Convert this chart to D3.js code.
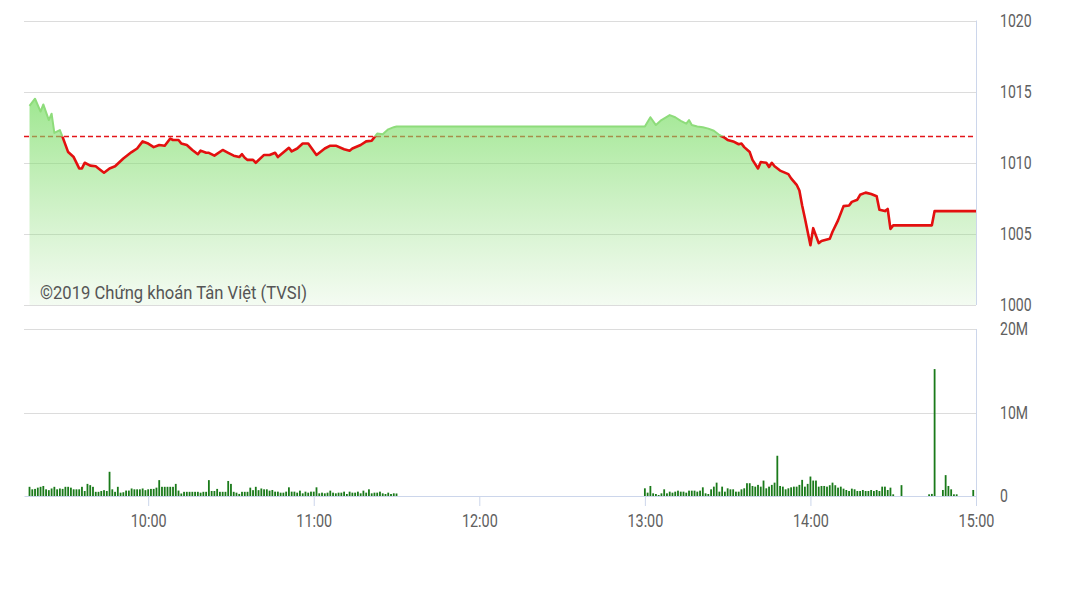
<!DOCTYPE html>
<html><head><meta charset="utf-8">
<script src="https://cdn.jsdelivr.net/npm/d3@7"></script>
<style>body{margin:0;background:#fff}svg{display:block}</style>
</head><body>
<script>
// ---------- DATA ----------
const priceTimes = ["9:17","9:19","9:21","9:22","9:24","9:25","9:26","9:28","9:29","9:31","9:33","9:35","9:36","9:37","9:39","9:41","9:42","9:44","9:46","9:48","9:51","9:54","9:56","9:58",
"10:00","10:02","10:04","10:06","10:08","10:09","10:11","10:12","10:14","10:16","10:18","10:19","10:21","10:22","10:24","10:27","10:29","10:31","10:33","10:34","10:35","10:36","10:38","10:39","10:42","10:44","10:46","10:47","10:51","10:52","10:54","10:56","10:58",
"11:01","11:04","11:06","11:08","11:11","11:13","11:14","11:17","11:19","11:21","11:22","11:23","11:25","11:27","11:29","11:30",
"13:00","13:02","13:04","13:06","13:09","13:11","13:13","13:15","13:16","13:17","13:19","13:21","13:23","13:25","13:27","13:29","13:30","13:32","13:34","13:35","13:36","13:38","13:39","13:41","13:42","13:44","13:45","13:46","13:47","13:49","13:52","13:53","13:55","13:56","13:57","13:58",
"14:00","14:01","14:03","14:04","14:06","14:07","14:08","14:10","14:12","14:14","14:15","14:17","14:18","14:20","14:22","14:24","14:25","14:27","14:28","14:29","14:30","14:44","14:45","15:00"];
const priceValues = [1014.0,1014.5,1013.6,1014.1,1013.0,1013.45,1012.1,1012.3,1011.8,1010.75,1010.4,1009.6,1009.6,1010.0,1009.8,1009.75,1009.6,1009.3,1009.6,1009.75,1010.3,1010.75,1011.0,1011.5,
1011.35,1011.1,1011.25,1011.2,1011.7,1011.6,1011.6,1011.35,1011.25,1010.9,1010.6,1010.85,1010.7,1010.7,1010.5,1010.9,1010.7,1010.5,1010.4,1010.6,1010.35,1010.2,1010.2,1010.0,1010.55,1010.55,1010.7,1010.4,1011.05,1010.8,1011.0,1011.35,1011.35,
1010.55,1011.0,1011.2,1011.2,1010.95,1010.85,1011.0,1011.25,1011.5,1011.55,1011.8,1012.05,1012.0,1012.35,1012.5,1012.55,
1012.55,1013.2,1012.65,1013.0,1013.35,1013.2,1012.95,1012.75,1013.0,1012.65,1012.55,1012.5,1012.4,1012.25,1011.95,1011.75,1011.6,1011.5,1011.3,1011.35,1011.1,1010.75,1010.2,1009.6,1010.05,1010.0,1009.7,1010.0,1009.75,1009.45,1009.2,1008.9,1008.45,1008.05,1007.0,1006.1,
1004.2,1005.4,1004.35,1004.5,1004.6,1004.65,1005.15,1005.95,1006.95,1007.0,1007.25,1007.4,1007.75,1007.9,1007.8,1007.65,1006.7,1006.6,1006.75,1005.35,1005.6,1005.6,1006.6,1006.6];
const refValue = 1011.85;

const priceTicks = [1000, 1005, 1010, 1015, 1020];
const volTicks = [0, 10, 20];
const volTickLabels = ["0", "10M", "20M"];
const timeTicks = ["10:00", "11:00", "12:00", "13:00", "14:00", "15:00"];
const timeDomain = ["9:15", "15:00"];

// volume in millions, one bar per minute from the start time
const morningVolStart = "9:17";
const morningVol = [1.1,0.8,0.85,1.0,1.1,1.2,0.8,0.7,0.9,1.1,
0.8,0.9,0.85,1.1,1.1,1.0,0.8,0.8,0.8,1.1,
0.6,1.45,1.3,1.1,0.5,0.5,0.6,0.7,0.6,2.9,
0.8,0.5,1.1,0.4,0.45,0.65,0.65,0.9,0.8,0.8,
0.8,0.9,0.7,0.8,0.85,0.85,1.0,1.9,1.1,1.1,
1.1,1.1,1.1,1.45,0.65,0.3,0.5,0.5,0.5,0.5,
0.5,0.5,0.4,0.5,0.5,1.9,0.6,0.6,0.85,0.5,
0.5,0.5,1.8,1.45,0.5,0.4,0.25,0.5,0.5,0.5,
1.0,0.7,1.1,0.7,0.9,0.8,
0.8,0.64,0.72,0.52,0.52,0.4,0.4,0.52,1.04,0.52,
0.52,0.4,0.64,0.32,0.52,0.4,0.52,0.52,1.04,0.32,
0.4,0.32,0.4,0.64,0.4,0.32,0.4,0.4,0.52,0.24,
0.52,0.4,0.4,0.52,0.32,0.64,0.4,0.8,0.32,0.4,
0.4,0.52,0.32,0.24,0.4,0.24,0.32,0.3];
const afternoonVolStart = "13:00";
const afternoonVol = [0.92,0.4,1.2,0.32,0.24,0.12,0.32,0.8,0.32,0.52,
0.4,0.52,0.64,0.52,0.52,0.4,0.64,0.64,0.64,0.52,
0.64,1.04,0.32,0.24,0.8,1.12,1.6,0.52,1.12,0.52,
0.92,0.8,0.8,0.52,0.52,0.8,0.92,1.53,1.53,1.2,
1.12,1.33,1.12,1.85,0.92,1.12,1.33,1.6,4.82,1.2,
1.12,0.8,0.92,1.04,1.12,1.12,1.33,1.93,1.12,1.45,
2.33,1.85,1.85,1.12,1.2,1.2,1.12,
1.29,1.6,1.29,1.0,1.12,0.88,0.72,0.6,0.88,0.8,
0.6,0.6,0.72,0.6,0.6,0.72,0.6,0.72,0.6,1.12,
1.12,0.72,1.0,0.2];
const extraVolTimes = ["14:33","14:43","14:44","14:45","14:48","14:49","14:50","14:51","14:52","14:53","14:59"];
const extraVolValues = [1.3,0.2,0.25,15.2,0.72,2.5,1.2,0.8,0.2,0.2,0.72];

const watermark = "©2019 Chứng khoán Tân Việt (TVSI)";

// ---------- CHART ----------
const W = 1080, H = 607;
const toMin = s => { const p = s.split(":").map(Number); return p[0] * 60 + p[1]; };
const fmtMin = m => Math.floor(m / 60) + ":" + String(m % 60).padStart(2, "0");

const x = d3.scaleLinear().domain(timeDomain.map(toMin)).range([24, 976]);
const yP = d3.scaleLinear().domain([1000, 1020]).range([305, 20.5]);
const yV = d3.scaleLinear().domain([0, 20]).range([496, 329]);

const svg = d3.select("body").append("svg").attr("width", W).attr("height", H)
  .style("font-family", "Roboto, 'Open Sans', sans-serif");

const defs = svg.append("defs");
const grad = defs.append("linearGradient").attr("id", "fillGrad").attr("x1", 0).attr("y1", 0).attr("x2", 0).attr("y2", 1);
grad.append("stop").attr("offset", "0%").attr("stop-color", "#7ade66").attr("stop-opacity", 0.72);
grad.append("stop").attr("offset", "100%").attr("stop-color", "#8fdc7c").attr("stop-opacity", 0.1);

const [x0, x1] = x.range();
defs.append("clipPath").attr("id", "clipAbove").append("rect")
  .attr("x", x0).attr("y", 0).attr("width", x1 - x0).attr("height", yP(refValue));
defs.append("clipPath").attr("id", "clipBelow").append("rect")
  .attr("x", x0).attr("y", yP(refValue)).attr("width", x1 - x0).attr("height", 400);

const gridColor = "#dcdcdc", axisColor = "#ccd6eb";

// price grid
svg.append("g").selectAll("line").data(priceTicks).join("line")
  .attr("x1", x0).attr("x2", x1).attr("y1", d => Math.round(yP(d)) + 0.5).attr("y2", d => Math.round(yP(d)) + 0.5)
  .attr("stroke", gridColor).attr("stroke-width", 1);
// volume grid
svg.append("g").selectAll("line").data(volTicks.filter(d => d > 0)).join("line")
  .attr("x1", x0).attr("x2", x1).attr("y1", d => Math.round(yV(d)) + 0.5).attr("y2", d => Math.round(yV(d)) + 0.5)
  .attr("stroke", gridColor).attr("stroke-width", 1);

// right borders
svg.append("line").attr("x1", x1 + 0.5).attr("x2", x1 + 0.5).attr("y1", yP(1020)).attr("y2", yP(1000)).attr("stroke", axisColor);
svg.append("line").attr("x1", x1 + 0.5).attr("x2", x1 + 0.5).attr("y1", yV(20)).attr("y2", yV(0)).attr("stroke", axisColor);

// reference dashed line (below the translucent area)
svg.append("line").attr("x1", x0).attr("x2", x1).attr("y1", yP(refValue)).attr("y2", yP(refValue))
  .attr("stroke", "#e3151a").attr("stroke-width", 1.5).attr("stroke-dasharray", "5,3");

const pData = priceTimes.map((t, i) => ({ t: toMin(t), v: priceValues[i] }));
const area = d3.area().x(d => x(d.t)).y0(yP(1000)).y1(d => yP(d.v));
const line = d3.line().x(d => x(d.t)).y(d => yP(d.v));

svg.append("path").datum(pData).attr("d", area).attr("fill", "url(#fillGrad)");
svg.append("path").datum(pData).attr("d", line).attr("fill", "none")
  .attr("stroke", "#8edc7b").attr("stroke-width", 2).attr("stroke-linejoin", "round")
  .attr("clip-path", "url(#clipAbove)");
svg.append("path").datum(pData).attr("d", line).attr("fill", "none")
  .attr("stroke", "#e3100f").attr("stroke-width", 2.6).attr("stroke-linejoin", "round")
  .attr("clip-path", "url(#clipBelow)");

// watermark
svg.append("text").attr("x", 40).attr("y", 299).attr("font-size", 17.5).attr("fill", "#555")
  .attr("textLength", 267).attr("lengthAdjust", "spacingAndGlyphs").text(watermark);

// volume bars
const vData = [];
morningVol.forEach((v, i) => vData.push({ t: toMin(morningVolStart) + i, v }));
afternoonVol.forEach((v, i) => vData.push({ t: toMin(afternoonVolStart) + i, v }));
extraVolTimes.forEach((t, i) => vData.push({ t: toMin(t), v: extraVolValues[i] }));
svg.append("g").selectAll("rect").data(vData).join("rect")
  .attr("x", d => x(d.t) - 0.9).attr("width", 1.8)
  .attr("y", d => yV(d.v)).attr("height", d => yV(0) - yV(d.v))
  .attr("fill", "#1a7a1a");

// x axis
const xAxis = d3.axisBottom(x).tickValues(timeTicks.map(toMin)).tickFormat(fmtMin)
  .tickSize(10).tickSizeOuter(0).tickPadding(8);
const gx = svg.append("g").attr("transform", `translate(0,${yV(0)})`).call(xAxis);
gx.select(".domain").attr("stroke", axisColor);
gx.selectAll(".tick line").attr("stroke", axisColor);
gx.selectAll(".tick text").attr("font-size", 18).attr("fill", "#606060").attr("font-family", "Roboto, sans-serif");

// right labels
const gy = svg.append("g");
gy.selectAll("text.p").data(priceTicks).join("text").attr("class", "p")
  .attr("x", 1000).attr("y", d => yP(d)).attr("dy", "0.36em").attr("font-size", 18).attr("fill", "#606060")
  .text(d => d);
gy.selectAll("text.v").data(volTicks).join("text").attr("class", "v")
  .attr("x", 1000).attr("y", d => yV(d)).attr("dy", "0.36em").attr("font-size", 18).attr("fill", "#606060")
  .text((d, i) => volTickLabels[i]);

// condense axis labels to match the narrow glyphs of the reference
function condense(sel, f) {
  sel.each(function () {
    const w = this.getComputedTextLength();
    this.setAttribute("textLength", w * f);
    this.setAttribute("lengthAdjust", "spacingAndGlyphs");
  });
}
condense(gx.selectAll(".tick text"), 0.8);
condense(gy.selectAll("text"), 0.78);
</script>
</body></html>
